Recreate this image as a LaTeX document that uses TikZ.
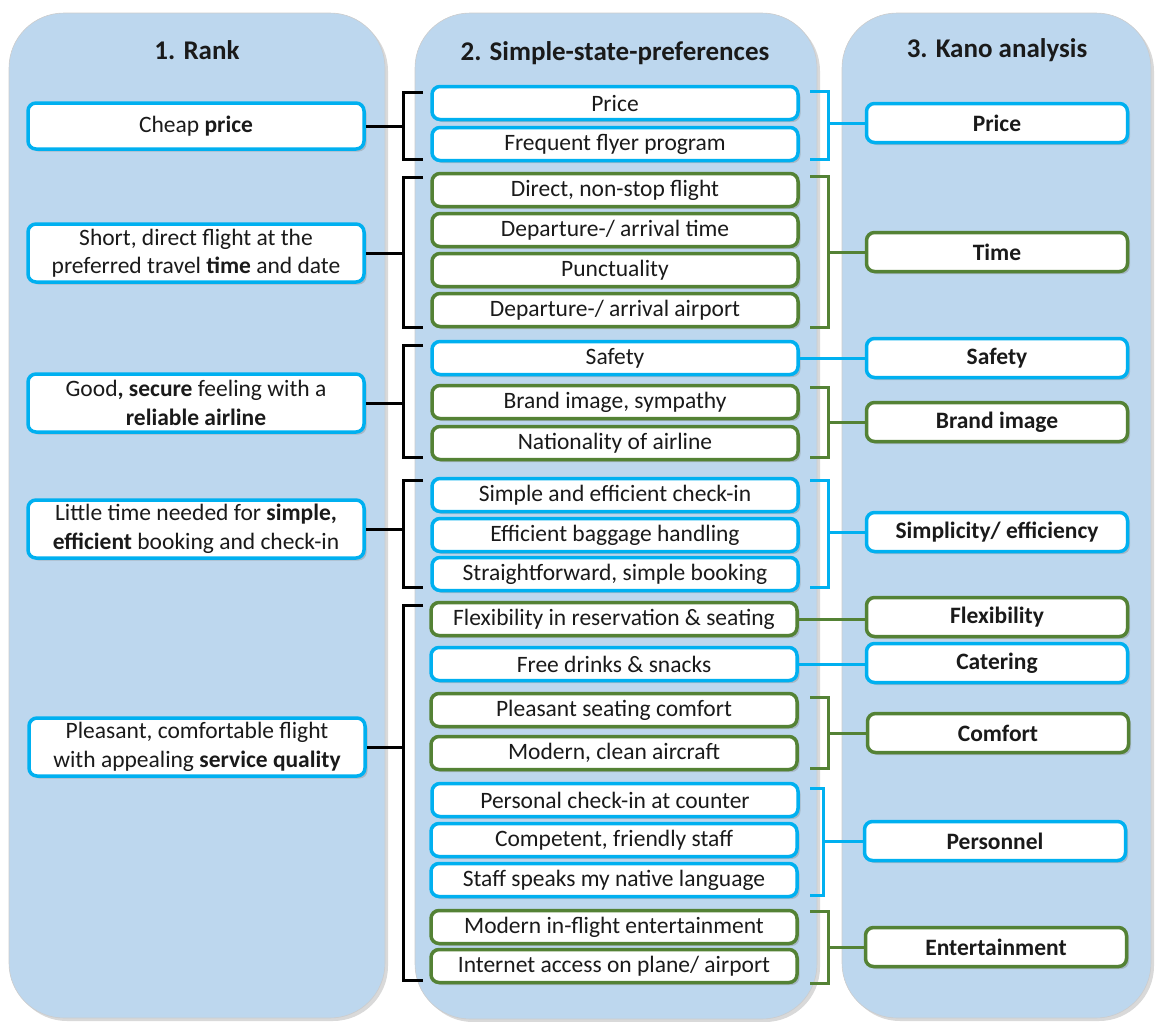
\documentclass[tikz,border=0pt]{standalone}
\usepackage{fontspec}
\setmainfont{Carlito}
\usetikzlibrary{shadows}
\definecolor{panelblue}{HTML}{BDD7EE}
\definecolor{cyanb}{HTML}{00B0F0}
\definecolor{greenb}{HTML}{548235}
\definecolor{txt}{HTML}{1A1A1A}
\begin{document}
\begin{tikzpicture}[x=1pt,y=-1pt,
  panel/.style={fill=panelblue, draw=gray!40, line width=0.6pt, rounded corners=55pt,
    drop shadow={shadow xshift=3pt, shadow yshift=-3pt, opacity=0.3}},
  ttl/.style={font=\fontsize{27}{31}\selectfont\bfseries, text=txt},
  box/.style={draw, fill=white, line width=3.5pt, rounded corners=8pt, align=center,
    inner sep=0pt, text=txt, font=\fontsize{23.5}{28.5}\selectfont,
    drop shadow={shadow xshift=2.5pt, shadow yshift=-2.5pt, opacity=0.35}},
  bl/.style={draw=cyanb}, gr/.style={draw=greenb},
  lbox/.style={box, bl, minimum width=336pt, minimum height=58pt},
  mb/.style={box, minimum width=366pt, minimum height=33pt},
  rb/.style={box, minimum width=261pt, minimum height=39pt, font=\fontsize{23.5}{28.5}\selectfont\bfseries},
  lbr/.style={draw=black, line width=3pt},
  rbrb/.style={draw=cyanb, line width=3pt},
  rbrg/.style={draw=greenb, line width=3pt}]
\useasboundingbox (0,0) rectangle (1157,1021);
% panels
\path[panel] (9,13) rectangle (385,1018);
\path[panel] (415,13) rectangle (817,1019);
\path[panel] (842,13) rectangle (1151,1018);
% titles
\node[ttl] (t1) at (197,50) {1. Rank};
\node[ttl] (t2) at (615,53) {2. Simple-state-preferences};
\node[ttl] (t3) at (997,50) {3. Kano analysis};
% left boxes
\node[lbox, minimum height=46pt] (l1) at (196,126) {Cheap \textbf{price}};
\node[lbox] (l2) at (196,253) {Short, direct flight at the\\preferred travel \textbf{time} and date};
\node[lbox] (l3) at (196,403) {Good\textbf{, secure} feeling with a\\\textbf{reliable airline}};
\node[lbox] (l4) at (196,529) {Little time needed for \textbf{simple,}\\\textbf{efficient} booking and check-in};
\node[lbox] (l5) at (197,747) {Pleasant, comfortable flight\\with appealing \textbf{service quality}};
% middle boxes
\node[mb,bl] (m1) at (615,103) {Price};
\node[mb,bl] (m2) at (615,144) {Frequent flyer program};
\node[mb,gr] (m3) at (615,190) {Direct, non-stop flight};
\node[mb,gr] (m4) at (615,230) {Departure-/ arrival time};
\node[mb,gr] (m5) at (615,270) {Punctuality};
\node[mb,gr] (m6) at (615,310) {Departure-/ arrival airport};
\node[mb,bl] (m7) at (615,358) {Safety};
\node[mb,gr] (m8) at (615,402) {Brand image, sympathy};
\node[mb,gr] (m9) at (615,443) {Nationality of airline};
\node[mb,bl] (m10) at (615,495) {Simple and efficient check-in};
\node[mb,bl] (m11) at (615,535) {Efficient baggage handling};
\node[mb,bl] (m12) at (615,574) {Straightforward, simple booking};
\node[mb,gr] (m13) at (614,619) {Flexibility in reservation \& seating};
\node[mb,bl] (m14) at (614,664) {Free drinks \& snacks};
\node[mb,gr] (m15) at (614,710) {Pleasant seating comfort};
\node[mb,gr] (m16) at (614,753) {Modern, clean aircraft};
\node[mb,bl] (m17) at (615,800) {Personal check-in at counter};
\node[mb,bl] (m18) at (614,840) {Competent, friendly staff};
\node[mb,bl] (m19) at (614,880) {Staff speaks my native language};
\node[mb,gr] (m20) at (614,927) {Modern in-flight entertainment};
\node[mb,gr] (m21) at (614,966) {Internet access on plane/ airport};
% right boxes
\node[rb,bl] (r1) at (997,123) {Price};
\node[rb,gr] (r2) at (997,252) {Time};
\node[rb,bl] (r3) at (997,358) {Safety};
\node[rb,gr] (r4) at (997,422) {Brand image};
\node[rb,bl] (r5) at (997,532) {Simplicity/ efficiency};
\node[rb,gr] (r6) at (997,617) {Flexibility};
\node[rb,bl] (r7) at (997,663) {Catering};
\node[rb,gr] (r8) at (998,733) {Comfort};
\node[rb,bl] (r9) at (995,841) {Personnel};
\node[rb,gr] (r10) at (996,947) {Entertainment};
% spine coordinates
\coordinate (LX) at (403,0);
\coordinate (RX) at (828,0);
\coordinate (RXp) at (823,0);
% left brackets
\draw[lbr] (423,92) -- (403,92) -- (403,159) -- (423,159);
\draw[lbr] (l1.east) -- (l1.east -| LX);
\draw[lbr] (423,177) -- (403,177) -- (403,327) -- (423,327);
\draw[lbr] (l2.east) -- (l2.east -| LX);
\draw[lbr] (423,345) -- (403,345) -- (403,457) -- (423,457);
\draw[lbr] (l3.east) -- (l3.east -| LX);
\draw[lbr] (423,480) -- (403,480) -- (403,587) -- (423,587);
\draw[lbr] (l4.east) -- (l4.east -| LX);
\draw[lbr] (423,605) -- (403,605) -- (403,980) -- (423,980);
\draw[lbr] (l5.east) -- (l5.east -| LX);
% right brackets
\draw[rbrb] (810,91) -- (828,91) -- (828,159) -- (810,159);
\draw[rbrb] (r1.west -| RX) -- (r1.west);
\draw[rbrg] (810,176) -- (828,176) -- (828,327) -- (810,327);
\draw[rbrg] (r2.west -| RX) -- (r2.west);
\draw[rbrb] (m7.east) -- (r3.west);
\draw[rbrg] (810,387) -- (828,387) -- (828,457) -- (810,457);
\draw[rbrg] (r4.west -| RX) -- (r4.west);
\draw[rbrb] (810,480) -- (828,480) -- (828,587) -- (810,587);
\draw[rbrb] (r5.west -| RX) -- (r5.west);
\draw[rbrg] (m13.east) -- (m13.east -| r6.west);
\draw[rbrb] (m14.east) -- (m14.east -| r7.west);
\draw[rbrg] (810,697) -- (828,697) -- (828,768) -- (810,768);
\draw[rbrg] (r8.west -| RX) -- (r8.west);
\draw[rbrb] (810,788) -- (823,788) -- (823,895) -- (810,895);
\draw[rbrb] (r9.west -| RXp) -- (r9.west);
\draw[rbrg] (810,911) -- (828,911) -- (828,983) -- (810,983);
\draw[rbrg] (r10.west -| RX) -- (r10.west);
\end{tikzpicture}
\end{document}
